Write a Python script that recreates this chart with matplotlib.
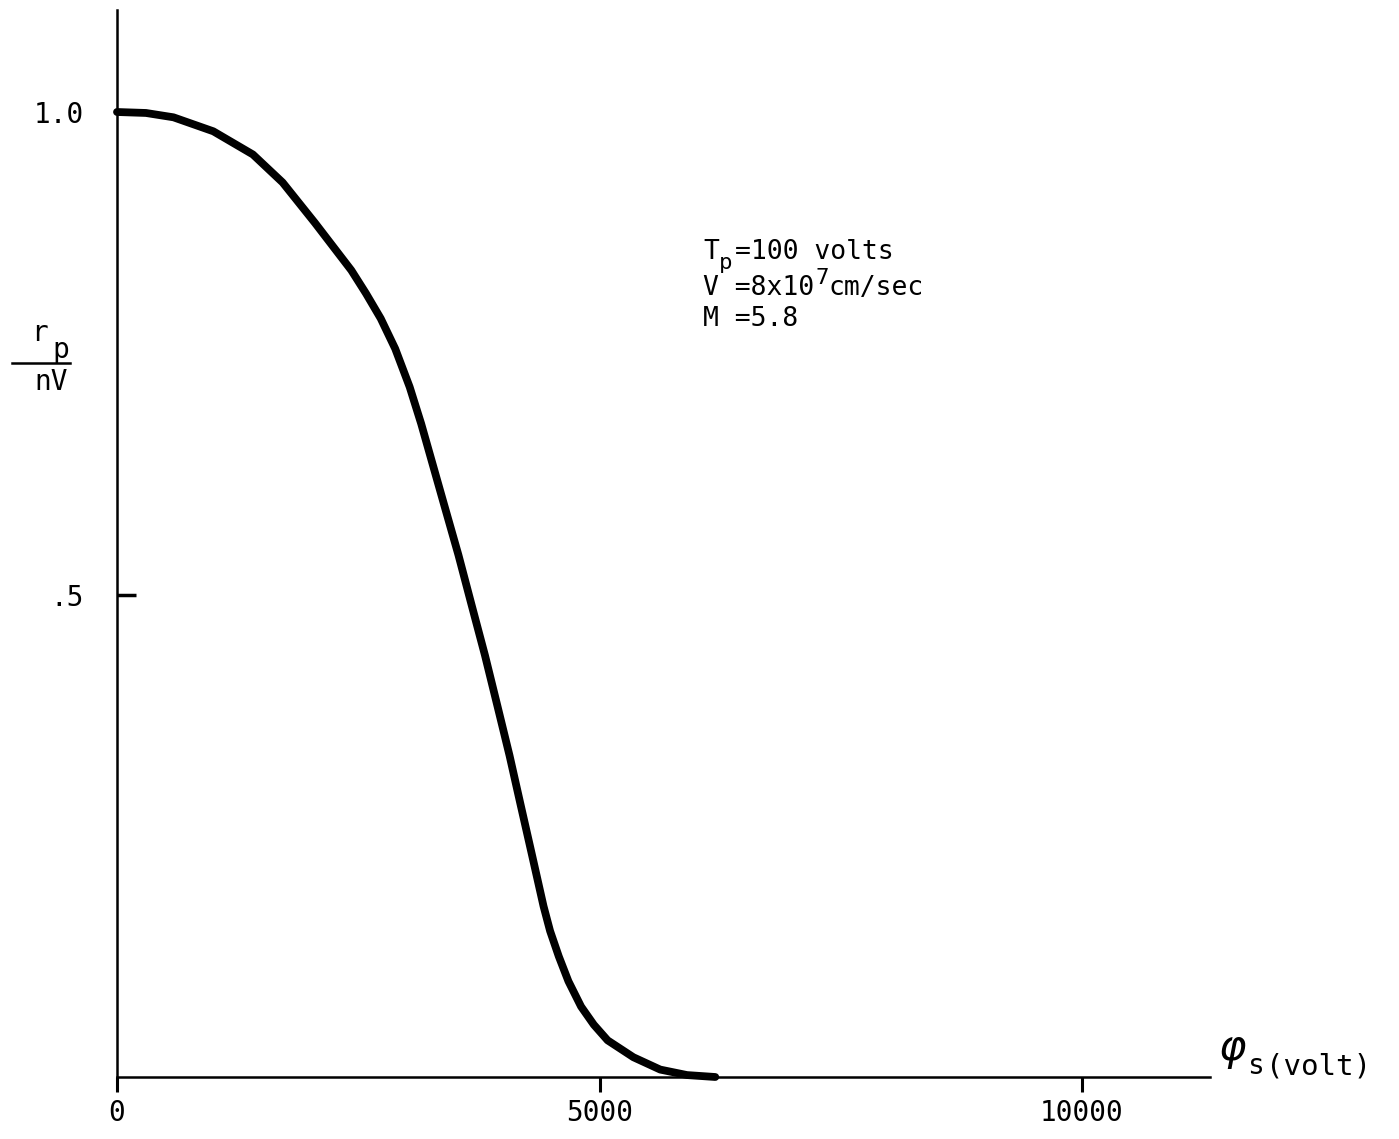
import matplotlib
matplotlib.use("Agg")
import matplotlib.pyplot as plt
from matplotlib.lines import Line2D

# Data
phi_s = [0, 300, 585, 998, 1408, 1716, 2052, 2428, 2580, 2733, 2883, 3033, 3152,
         3271, 3390, 3538, 3675, 3813, 3941, 4068, 4185, 4303, 4420, 4488, 4578,
         4678, 4809, 4941, 5084, 5351, 5629, 5907, 6200]
gamma = [1.0, 0.999, 0.9945, 0.980, 0.956, 0.927, 0.885, 0.836, 0.812, 0.786,
         0.7547, 0.715, 0.677, 0.635, 0.593, 0.541, 0.489, 0.437, 0.385, 0.333,
         0.281, 0.229, 0.177, 0.1513, 0.125, 0.0992, 0.073, 0.0542, 0.038, 0.0205,
         0.0077, 0.002, 0.0]
x_ticks = [0, 5000, 10000]
x_tick_labels = ["0", "5000", "10000"]
y_ticks = [0.5, 1.0]
y_tick_labels = [".5", "1.0"]

W, H = 1399, 1139
fig = plt.figure(figsize=(W / 100, H / 100), dpi=100)
fig.patch.set_facecolor("white")

ax = fig.add_axes([117 / W, 62 / H, 1093 / W, 1067 / H])
ax.set_xlim(0, 1093 / 0.0965)
ax.set_ylim(0, 1067 / 965)

ax.plot(phi_s, gamma, color="black", lw=5.6, solid_capstyle="round",
        solid_joinstyle="round", clip_on=False, zorder=3)

for s in ["top", "right"]:
    ax.spines[s].set_visible(False)
for s in ["left", "bottom"]:
    ax.spines[s].set_linewidth(1.8)
    ax.spines[s].set_color("black")

mono = "DejaVu Sans Mono"
ax.set_xticks(x_ticks)
ax.set_xticklabels(x_tick_labels, fontfamily=mono, fontsize=20)
ax.set_yticks(y_ticks)
ax.set_yticklabels(y_tick_labels, fontfamily=mono, fontsize=20)
ax.tick_params(axis="x", direction="out", length=11, width=2.2, pad=5)
ax.tick_params(axis="y", direction="in", length=14, width=2.5, pad=24)

# y-axis label as a fraction r_p / nV
fig.text(39 / W, 1 - 333 / H, "r", fontfamily=mono, fontsize=20, ha="center", va="center")
fig.text(61 / W, 1 - 350 / H, "p", fontfamily=mono, fontsize=20, ha="center", va="center")
fig.add_artist(Line2D([12 / W, 70 / W], [1 - 363 / H, 1 - 363 / H],
                      transform=fig.transFigure, color="black", lw=1.8))
fig.text(51 / W, 1 - 382 / H, "nV", fontfamily=mono, fontsize=20, ha="center", va="center")

# x-axis label
fig.text(1218 / W, 1 - 1060 / H, r"$\varphi$", fontsize=30, ha="left", va="baseline")
fig.text(1247 / W, 1 - 1074 / H, "s", fontfamily=mono, fontsize=20, ha="left", va="baseline")
fig.text(1266 / W, 1 - 1074 / H, "(volt)", fontfamily=mono, fontsize=21, ha="left", va="baseline")

# annotation block
fs = 19
cw = 0.602 * fs * 100 / 72
x0 = 703
fig.text(x0 / W, 1 - 259 / H, "T", fontfamily=mono, fontsize=fs, ha="left", va="baseline")
fig.text((x0 + 16) / W, 1 - 269 / H, "p", fontfamily=mono, fontsize=16, ha="left", va="baseline")
fig.text((x0 + 32) / W, 1 - 259 / H, "=100 volts", fontfamily=mono, fontsize=fs, ha="left", va="baseline")
fig.text(x0 / W, 1 - 295 / H, "V =8x10", fontfamily=mono, fontsize=fs, ha="left", va="baseline")
fig.text((x0 + 7 * cw + 1) / W, 1 - 284 / H, "7", fontfamily=mono,
         fontsize=16, ha="left", va="baseline")
fig.text((x0 + 7 * cw + 14) / W, 1 - 295 / H, "cm/sec", fontfamily=mono,
         fontsize=fs, ha="left", va="baseline")
fig.text(x0 / W, 1 - 326 / H, "M =5.8", fontfamily=mono, fontsize=fs, ha="left", va="baseline")

fig.savefig("out.png", dpi=100, facecolor="white")
